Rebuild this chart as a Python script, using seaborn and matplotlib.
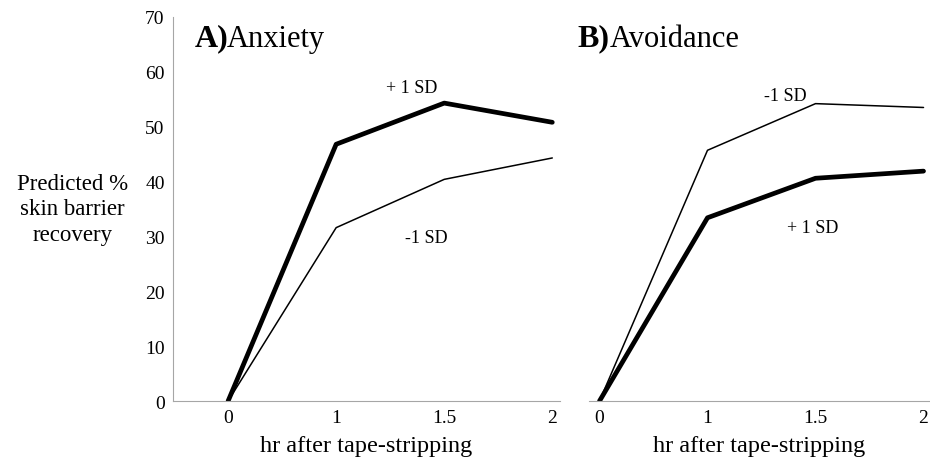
import numpy as np
import pandas as pd
import matplotlib
matplotlib.use('Agg')
import matplotlib.pyplot as plt
import seaborn as sns

# data
hours = ['0', '1', '1.5', '2']
anx_plus = [0, 46.8, 54.3, 50.8]
anx_minus = [0, 31.6, 40.4, 44.3]
avo_plus = [0, 33.4, 40.6, 41.9]
avo_minus = [0, 45.7, 54.2, 53.5]
groups = ['+ 1 SD', '-1 SD']

sns.set_style('white')
plt.rcParams['font.family'] = ['Liberation Serif', 'DejaVu Serif']
plt.rcParams['text.color'] = 'black'
plt.rcParams['xtick.color'] = 'black'
plt.rcParams['ytick.color'] = 'black'
plt.rcParams['axes.labelcolor'] = 'black'


def make_df(plus, minus):
    return pd.DataFrame({
        'hr': hours * 2,
        'pct': plus + minus,
        'sd': [groups[0]] * 4 + [groups[1]] * 4,
    })


fig = plt.figure(figsize=(9.3, 4.6), dpi=100)
ax1 = fig.add_axes([0.186, 0.126, 0.416, 0.835])
ax2 = fig.add_axes([0.633, 0.126, 0.367, 0.835])

for ax, plus, minus in [(ax1, anx_plus, anx_minus), (ax2, avo_plus, avo_minus)]:
    sns.lineplot(data=make_df(plus, minus), x='hr', y='pct', hue='sd', size='sd',
                 sizes={groups[0]: 3.4, groups[1]: 1.1},
                 palette={groups[0]: 'black', groups[1]: 'black'},
                 legend=False, ax=ax)
    ax.set_ylim(0, 70)
    ax.set_yticks(range(0, 71, 10))
    ax.set_xlabel('hr after tape-stripping', fontsize=17.5, labelpad=6)
    ax.set_ylabel('')
    ax.tick_params(axis='both', labelsize=14, length=0, pad=6)
    for s in ['top', 'right']:
        ax.spines[s].set_visible(False)
    ax.spines['bottom'].set_color('#a6a6a6')
    ax.spines['left'].set_color('#a6a6a6')

ax1.set_xlim(-0.51, 3.07)
ax2.set_xlim(-0.1, 3.06)
ax2.spines['left'].set_visible(False)
ax2.set_yticks([])

ax1.set_ylabel('Predicted %\nskin barrier\nrecovery', fontsize=16.5, rotation=0,
               ha='center', va='center', labelpad=0, linespacing=1.3)
ax1.yaxis.set_label_coords(-0.26, 0.50)

# panel titles
ax1.text(0.055, 0.945, 'A)', transform=ax1.transAxes, fontsize=23,
         fontweight='bold', va='center')
ax1.text(0.14, 0.945, 'Anxiety', transform=ax1.transAxes, fontsize=22, va='center')
ax2.text(-0.032, 0.945, 'B)', transform=ax2.transAxes, fontsize=23,
         fontweight='bold', va='center')
ax2.text(0.062, 0.945, 'Avoidance', transform=ax2.transAxes, fontsize=22, va='center')

# series labels
ax1.text(1.70, 57.2, '+ 1 SD', fontsize=13, ha='center', va='center')
ax1.text(1.83, 29.8, '-1 SD', fontsize=13, ha='center', va='center')
ax2.text(1.72, 55.6, '-1 SD', fontsize=13, ha='center', va='center')
ax2.text(1.97, 31.6, '+ 1 SD', fontsize=13, ha='center', va='center')

fig.savefig('out.png', dpi=100)
